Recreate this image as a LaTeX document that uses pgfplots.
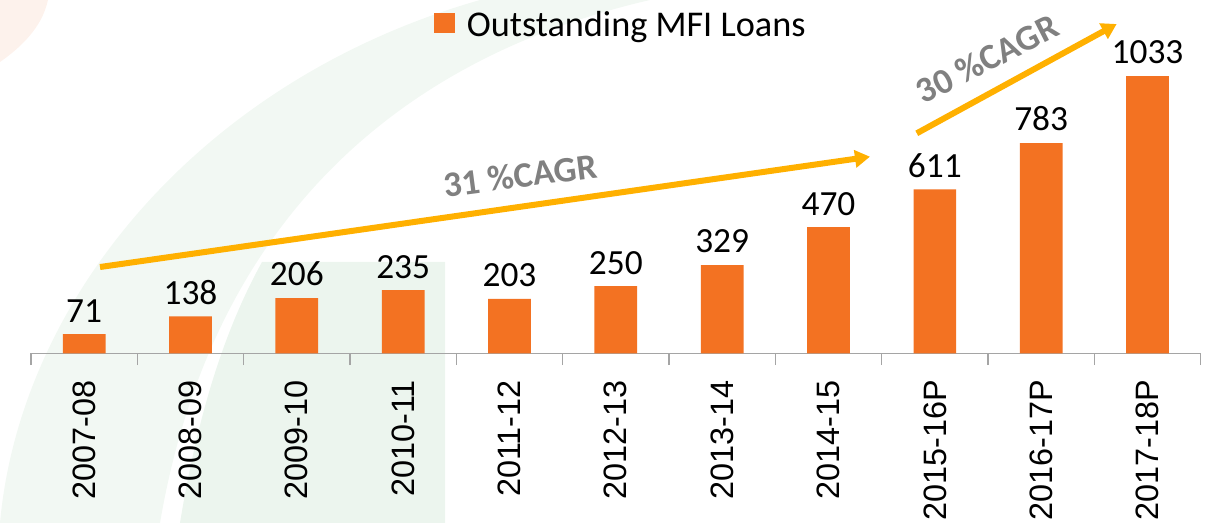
\documentclass[border=0pt]{standalone}
\usepackage{pgfplots}
\pgfplotsset{compat=1.18}
\usepackage{fontspec}
\setmainfont{Carlito}
\newfontfamily\arialf{Liberation Sans}
\usetikzlibrary{arrows.meta}
\definecolor{barorange}{RGB}{243,114,34}
\definecolor{arrowgold}{RGB}{255,176,0}
\definecolor{cagrgray}{RGB}{128,128,128}
\definecolor{axisgray}{RGB}{165,165,165}
\definecolor{bggreen}{RGB}{242,248,243}
\definecolor{bggreen2}{RGB}{236,245,238}
\definecolor{bgpeach}{RGB}{253,242,236}

\begin{document}
\begin{tikzpicture}
% faint decorative background (image pixel frame)
\begin{scope}[shift={(-31bp,353.3bp)}, x=1bp, y=-1bp]
\fill[bgpeach] (0,0) -- (48,0) .. controls (42,28) and (20,48) .. (0,62) -- cycle;
\fill[bggreen] (0,523) .. controls (20,300) and (200,80) .. (480,0) -- (650,0)
  .. controls (390,60) and (210,230) .. (160,523) -- cycle;
\fill[bggreen2] (262,262) -- (445,262) -- (445,523) -- (180,523) .. controls (200,400) and (230,320) .. (262,262) -- cycle;
\end{scope}
\begin{axis}[
  at={(0,0)}, anchor=south west,
  scale only axis, width=1169.7bp, height=340bp,
  xmin=-0.5, xmax=10.5, ymin=0, ymax=1266.8,
  axis y line=none, axis x line*=bottom,
  x axis line style={axisgray, line width=1.5bp},
  ybar, bar width=42.7bp,
  xtick={0,...,10},
  xticklabels={2007-08,2008-09,2009-10,2010-11,2011-12,2012-13,2013-14,2014-15,2015-16P,2016-17P,2017-18P},
  major tick length=0pt,
  minor xtick={-0.5,0.5,1.5,2.5,3.5,4.5,5.5,6.5,7.5,8.5,9.5,10.5},
  minor tick length=11.7bp,
  minor x tick style={axisgray, line width=1.5bp},
  tick align=outside,
  xticklabel style={rotate=90, anchor=east, inner sep=0pt, font=\arialf\fontsize{32.5}{34}\selectfont, xshift=-26.7bp},
  /pgf/number format/.cd, 1000 sep={}, assume math mode=true, /pgfplots/.cd,
  nodes near coords,
  every node near coord/.append style={font=\fontsize{35.5}{38}\selectfont, inner sep=0pt, yshift=11.7bp, text=black},
  legend style={draw=none, fill=none, at={(0.3445,0.966)}, anchor=west, inner sep=0pt,
    font=\fontsize{36.4}{40}\selectfont, nodes={inner sep=0pt},
    /tikz/every odd column/.style={column sep=11.7bp}},
  legend image code/.code={\fill[barorange] (0bp,-8bp) rectangle (21bp,11.4bp);},
  clip=false,
]
\addplot[fill=barorange, draw=none] coordinates {
(0,71) (1,138) (2,206) (3,235) (4,203) (5,250) (6,329) (7,470) (8,611) (9,783) (10,1033)};
\addlegendentry{Outstanding MFI Loans}
\draw[arrowgold, line width=6bp, -{Triangle[length=15bp,width=17bp]}] (axis cs:0.149,321.5) -- (axis cs:7.39,732.5);
\draw[arrowgold, line width=6bp, -{Triangle[length=15bp,width=17bp]}] (axis cs:7.83,819.7) -- (axis cs:9.71,1226.9);
\node[rotate=7.5, text=cagrgray, font=\bfseries\fontsize{36}{38}\selectfont] at (axis cs:4.10,663) {31 \%CAGR};
\node[rotate=27, text=cagrgray, font=\bfseries\fontsize{36}{38}\selectfont] at (axis cs:8.49,1097) {30 \%CAGR};
\end{axis}
\pgfresetboundingbox
\path (-31bp,-169.7bp) rectangle (1184bp,353.3bp);
\end{tikzpicture}
\end{document}
